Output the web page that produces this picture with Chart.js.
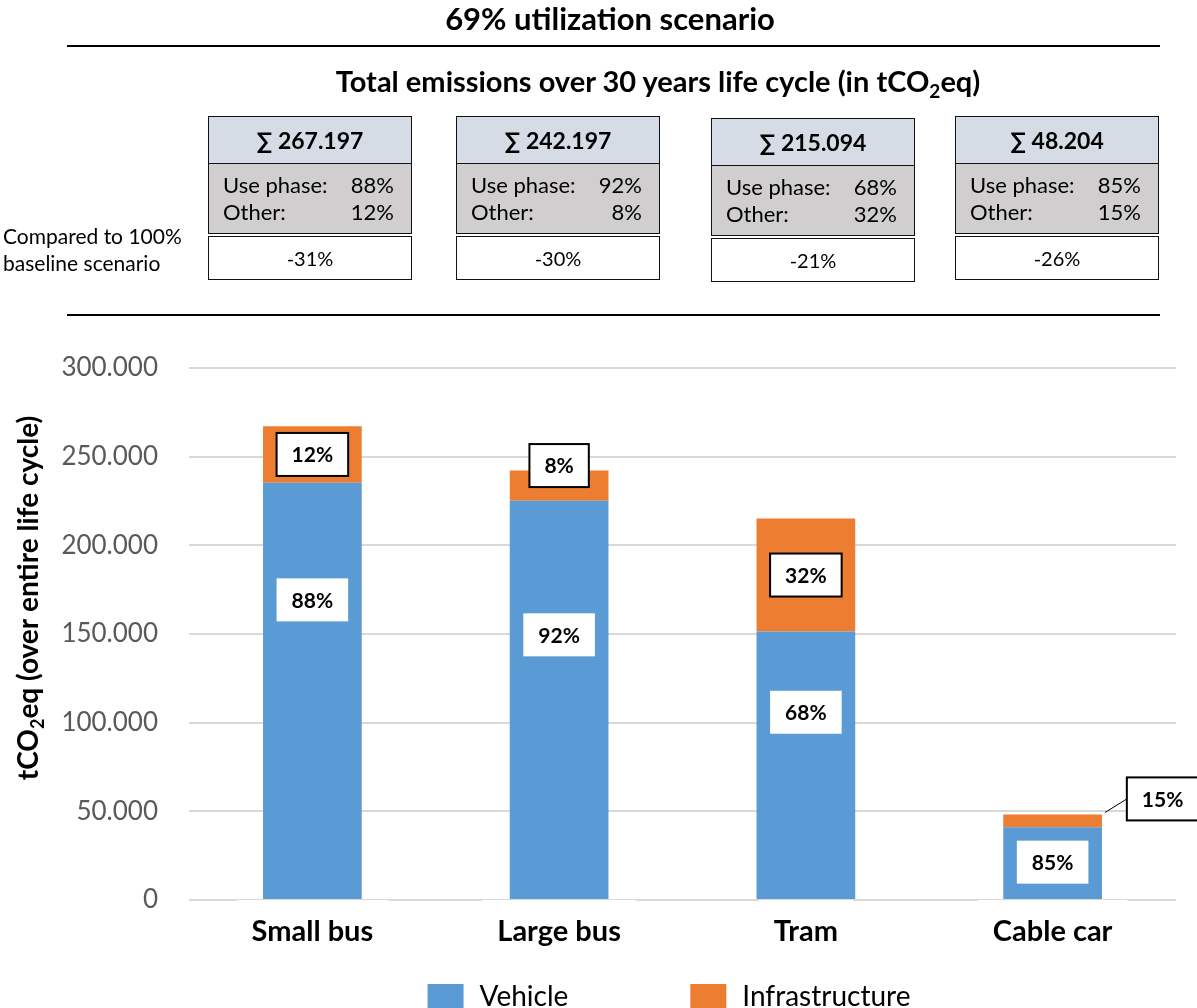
<!DOCTYPE html>
<html>
<head>
<meta charset="utf-8">
<script src="https://cdn.jsdelivr.net/npm/chart.js@4.4.1/dist/chart.umd.min.js"></script>
<style>
  html, body { margin: 0; padding: 0; background: #fff; overflow: hidden; }
  body { width: 1197px; height: 1008px; position: relative; font-family: Lato, "Liberation Sans", sans-serif; color: #000; }
  #c { position: absolute; left: 0; top: 0; }
  #head { position: absolute; left: 0; top: 0; width: 1197px; height: 330px; pointer-events: none; }
  .title { position: absolute; left: 0; top: -1px; width: 1220px; text-align: center; font-weight: bold; font-size: 31px; line-height: 38px; }
  .sub { position: absolute; left: 0; top: 63px; width: 1316px; text-align: center; font-weight: bold; font-size: 29px; line-height: 36px; }
  .sub sub { font-size: 19px; vertical-align: -6px; line-height: 0; }
  .rule { position: absolute; left: 67px; width: 1093px; height: 2px; background: #000; }
  .cmp { position: absolute; left: 3px; top: 222px; font-size: 21px; line-height: 27px; }
  .box { position: absolute; width: 204px; }
  .hd { height: 48px; background: #d6dce5; border: 1.5px solid #111; box-sizing: border-box;
        display: flex; align-items: center; justify-content: center; font-weight: bold; font-size: 23px; }
  .gr { height: 70px; background: #d0cece; border: 1.5px solid #111; border-top: none; box-sizing: border-box;
        padding: 7px 17px 0 14px; font-size: 22px; line-height: 27px; }
  .gr div { display: flex; justify-content: space-between; }
  .wt { margin-top: 2px; height: 44px; background: #fff; border: 1.5px solid #111; box-sizing: border-box;
        display: flex; align-items: center; justify-content: center; font-size: 20px; }
</style>
</head>
<body>
<canvas id="c" width="1197" height="1008" style="width:1197px;height:1008px"></canvas>
<div id="head">
  <div class="title">69% utilization scenario</div>
  <div class="rule" style="top:45px"></div>
  <div class="sub">Total emissions over 30 years life cycle (in tCO<sub>2</sub>eq)</div>
  <div class="cmp">Compared to 100%<br>baseline scenario</div>
  <div class="rule" style="top:314px"></div>
</div>
<script>
// values
const categories = ['Small bus', 'Large bus', 'Tram', 'Cable car'];
const vehicle = [235300, 225200, 151400, 41000];
const infrastructure = [31900, 17000, 63700, 7200];
const vehiclePct = ['88%', '92%', '68%', '85%'];
const infraPct = ['12%', '8%', '32%', '15%'];

// summary boxes above the chart
const totals = ['267.197', '242.197', '215.094', '48.204'];
const usePhase = ['88%', '92%', '68%', '85%'];
const otherPhase = ['12%', '8%', '32%', '15%'];
const vsBaseline = ['-31%', '-30%', '-21%', '-26%'];

// y axis
const yMin = 0;
const yMax = 300000;
const yStep = 50000;

const BLUE = '#5b9bd5';
const ORANGE = '#ed7d31';
const FONT = 'Lato, "Liberation Sans", sans-serif';

//
// summary boxes (html)
//
const boxLeft = [208, 456, 711, 955];
const boxTop = [116, 116, 118, 116];
const headDiv = document.getElementById('head');
for (let i = 0; i < categories.length; i++) {
    const b = document.createElement('div');
    b.className = 'box';
    b.style.left = boxLeft[i] + 'px';
    b.style.top = boxTop[i] + 'px';
    b.innerHTML =
        '<div class="hd">\u2211 ' + totals[i] + '</div>' +
        '<div class="gr"><div><span>Use phase:</span><span>' + usePhase[i] + '</span></div>' +
        '<div><span>Other:</span><span>' + otherPhase[i] + '</span></div></div>' +
        '<div class="wt">' + vsBaseline[i] + '</div>';
    headDiv.appendChild(b);
}

//
// labels inside / next to the bars
//
// nudge in px from the middle of each segment  [dataset][bar]
const labelNudge = [
    [[0, -91], [0, -65], [0, -53], [0, -1]],
    [[0, 0], [0, -20], [0, 0], [110, -22]]
];
const barLabels = {
    id: 'barLabels',
    afterDatasetsDraw(chart) {
        const ctx = chart.ctx;
        const texts = [vehiclePct, infraPct];
        ctx.save();
        ctx.font = 'bold 21px ' + FONT;
        ctx.textAlign = 'center';
        ctx.textBaseline = 'middle';
        chart.data.datasets.forEach((ds, di) => {
            chart.getDatasetMeta(di).data.forEach((bar, i) => {
                const p = bar.getProps(['x', 'y', 'base', 'width']);
                const nud = labelNudge[di][i];
                const cx = p.x + nud[0];
                const cy = (p.y + p.base) / 2 + nud[1];
                const t = texts[di][i];
                const w = ctx.measureText(t).width + 30;
                const h = 43;
                if (nud[0] !== 0) {
                    // leader line
                    ctx.strokeStyle = '#000';
                    ctx.lineWidth = 1;
                    ctx.beginPath();
                    ctx.moveTo(p.x + p.width / 2 + 3, p.y - 2);
                    ctx.lineTo(cx - w / 2, cy);
                    ctx.stroke();
                }
                ctx.fillStyle = '#fff';
                ctx.fillRect(cx - w / 2, cy - h / 2, w, h);
                if (di === 1) {
                    ctx.strokeStyle = '#000';
                    ctx.lineWidth = 2;
                    ctx.strokeRect(cx - w / 2, cy - h / 2, w, h);
                }
                ctx.fillStyle = '#000';
                ctx.fillText(t, cx, cy + 1);
            });
        });
        ctx.restore();
    }
};

//
// y title with subscript + legend at the bottom
//
const extras = {
    id: 'extras',
    afterDraw(chart) {
        const ctx = chart.ctx;
        ctx.save();
        // y title
        const big = 'bold 28px ' + FONT;
        const small = 'bold 18px ' + FONT;
        const parts = [['tCO', big, 0], ['2', small, 6], ['eq (over entire life cycle)', big, 0]];
        let total = 0;
        parts.forEach(pt => { ctx.font = pt[1]; total += ctx.measureText(pt[0]).width; });
        ctx.translate(38, 598);
        ctx.rotate(-Math.PI / 2);
        ctx.textBaseline = 'alphabetic';
        ctx.textAlign = 'left';
        ctx.fillStyle = '#000';
        let x = -total / 2;
        parts.forEach(pt => {
            ctx.font = pt[1];
            ctx.fillText(pt[0], x, pt[2]);
            x += ctx.measureText(pt[0]).width;
        });
        ctx.restore();

        // legend
        ctx.save();
        ctx.font = '28px ' + FONT;
        ctx.textBaseline = 'alphabetic';
        const items = chart.data.datasets.map(ds => ({ text: ds.label, color: ds.backgroundColor }));
        const box = 36, gapText = 16, gapItem = 122;
        let width = 0;
        items.forEach((it, k) => {
            width += box + gapText + ctx.measureText(it.text).width + (k ? 0 : gapItem);
        });
        let lx = 669 - width / 2;
        items.forEach(it => {
            ctx.fillStyle = it.color;
            ctx.fillRect(lx, 984, box, box);
            ctx.fillStyle = '#000';
            ctx.fillText(it.text, lx + box + gapText, 1006);
            lx += box + gapText + ctx.measureText(it.text).width + gapItem;
        });
        ctx.restore();
    }
};

Chart.defaults.font.family = FONT;

new Chart(document.getElementById('c').getContext('2d'), {
    type: 'bar',
    data: {
        labels: categories,
        datasets: [{
            label: 'Vehicle',
            data: vehicle,
            backgroundColor: BLUE,
        }, {
            label: 'Infrastructure',
            data: infrastructure,
            backgroundColor: ORANGE,
        }]
    },
    options: {
        responsive: false,
        animation: false,
        devicePixelRatio: 1,
        categoryPercentage: 1,
        barPercentage: 0.4,
        layout: {
            padding: { top: 368, left: 0, right: 21, bottom: 0 }
        },
        plugins: {
            legend: { display: false },
            tooltip: { enabled: false },
        },
        scales: {
            x: {
                stacked: true,
                grid: { display: false },
                border: { display: false },
                ticks: {
                    color: '#000',
                    font: { size: 29, weight: 'bold' },
                    padding: 6,
                    showLabelBackdrop: true,
                    backdropColor: '#fff',
                    backdropPadding: { top: 24, bottom: 0, left: 15, right: 15 },
                },
                afterFit(scale) { scale.height = 108; },
            },
            y: {
                stacked: true,
                min: yMin,
                max: yMax,
                border: { display: false },
                grid: { color: '#d9d9d9', lineWidth: 2, drawTicks: false },
                ticks: {
                    stepSize: yStep,
                    color: '#595959',
                    font: { size: 26 },
                    padding: 31,
                    callback: v => v === 0 ? '0' : (v / 1000) + '.000',
                },
                afterFit(scale) { scale.width = 189; },
            }
        }
    },
    plugins: [barLabels, extras]
});
</script>
</body>
</html>
